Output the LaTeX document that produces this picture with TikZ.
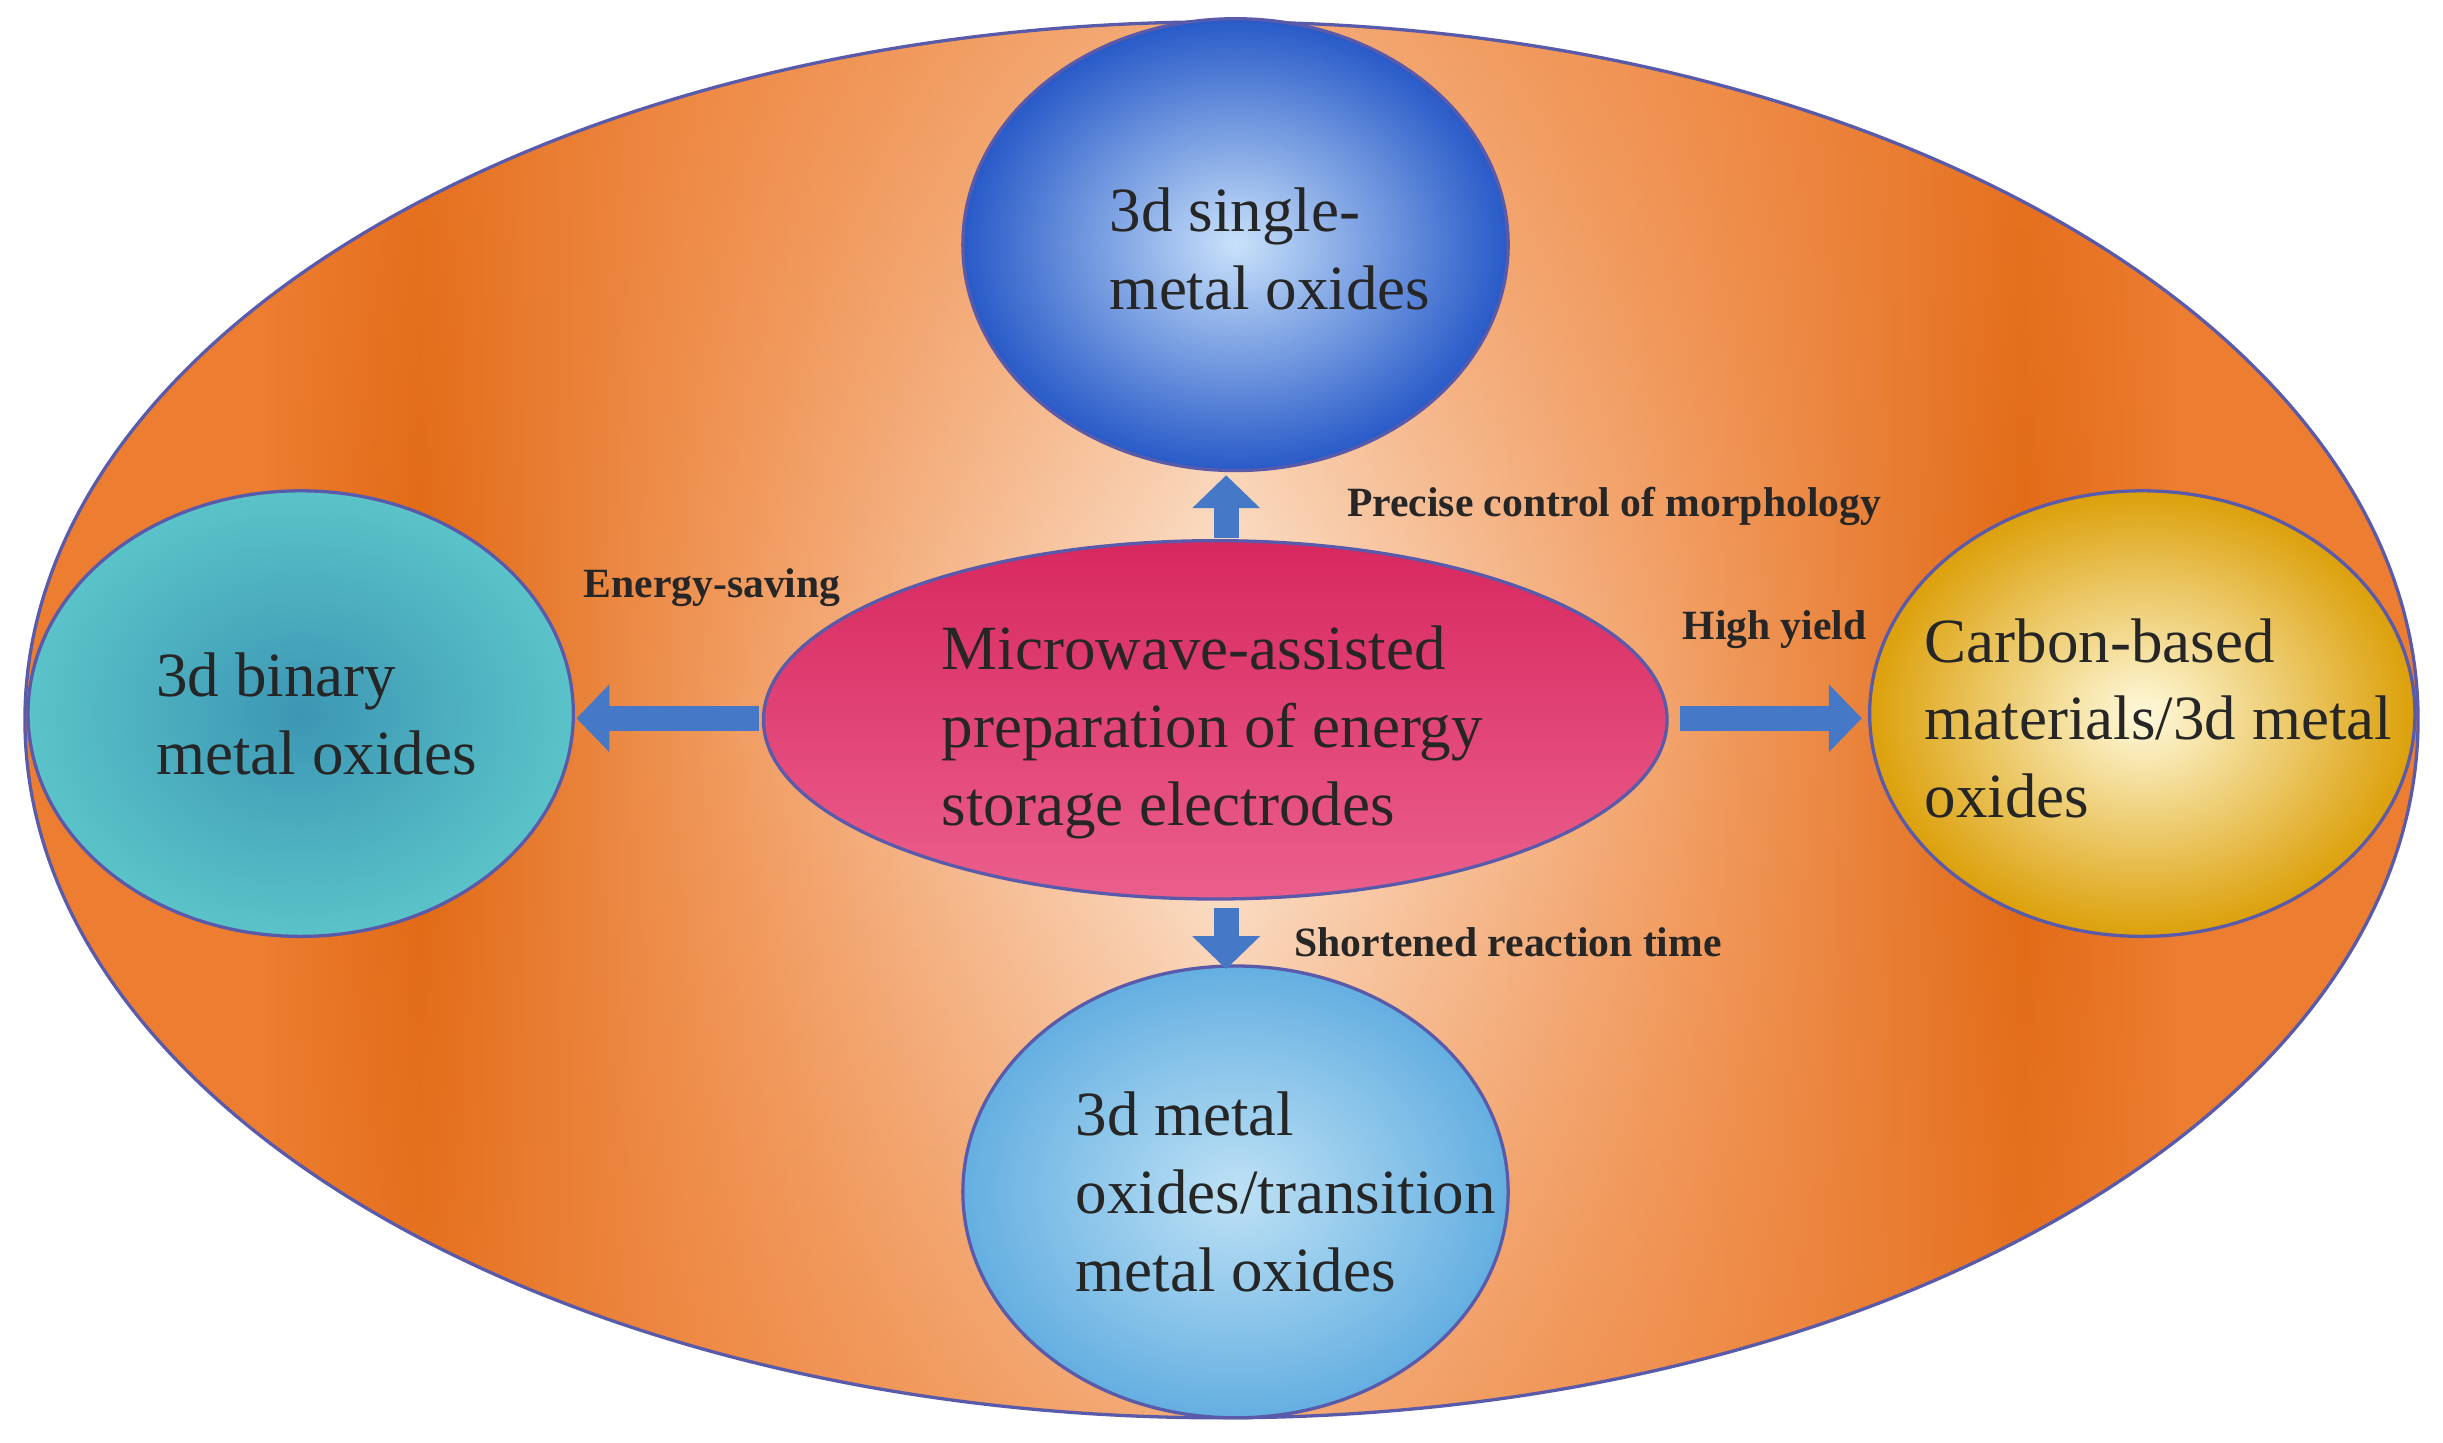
\documentclass[tikz,border=0pt]{standalone}
\usepackage{fontspec}
\setmainfont{Liberation Serif}
\usetikzlibrary{arrows.meta,fadings,shapes.geometric}
\definecolor{orA}{RGB}{237,125,49}
\definecolor{orD}{RGB}{224,104,18}
\definecolor{orL}{RGB}{253,236,220}
\pgfdeclarehorizontalshading{bgsh}{100bp}{color(0bp)=(orA);color(25bp)=(orA);color(30bp)=(orA);color(33.25bp)=(orD);color(40bp)=(orA!70!orL);color(50bp)=(orL);color(60bp)=(orA!70!orL);color(66.75bp)=(orD);color(70bp)=(orA);color(75bp)=(orA);color(100bp)=(orA)}
\tikzfading[name=vfade, top color=transparent!45, bottom color=transparent!45, middle color=transparent!100]
\tikzset{
 x=0.01cm,y=-0.01cm,
 txt/.style={align=left,anchor=west,font=\fontsize{11.5}{14.2}\selectfont,text=black!85},
 lab/.style={font=\fontsize{7.6}{9}\selectfont\bfseries,text=black!85},
 arr/.style={line width=4.5pt,-{Triangle[length=6pt,width=12pt]},color={rgb,255:red,70;green,120;blue,200}},
 edge/.style={draw={rgb,255:red,90;green,90;blue,170},line width=0.6pt}
}
\begin{document}
\begin{tikzpicture}
\useasboundingbox (0,0) rectangle (1568,926);
\shade[shading=bgsh] (784,462) ellipse [x radius=768, y radius=448];
\begin{scope}
\clip (784,462) ellipse [x radius=768, y radius=448];
\fill[orA,path fading=vfade] (16,14) rectangle (1552,910);
\end{scope}
\draw[edge] (784,462) ellipse [x radius=768, y radius=448];
% bubbles
\shade[inner color={rgb,255:red,200;green,225;blue,250},outer color={rgb,255:red,40;green,90;blue,200},edge] (793,157) ellipse [x radius=175, y radius=145];
\shade[inner color={rgb,255:red,60;green,150;blue,180},outer color={rgb,255:red,90;green,195;blue,200},edge] (193,458) ellipse [x radius=175, y radius=143];
\shade[inner color={rgb,255:red,255;green,250;blue,220},outer color={rgb,255:red,220;green,160;blue,10},edge] (1375,458) ellipse [x radius=175, y radius=143];
\shade[inner color={rgb,255:red,190;green,225;blue,245},outer color={rgb,255:red,100;green,175;blue,225},edge] (793,765) ellipse [x radius=175, y radius=145];
\shade[top color={rgb,255:red,215;green,40;blue,95},bottom color={rgb,255:red,235;green,95;blue,140},edge] (780,462) ellipse [x radius=290, y radius=115];
% texts
\node[txt] (t) at (700,160) {3d single-\\metal oxides};
\node[txt] (c) at (592,470) {Microwave-assisted\\preparation of energy\\storage electrodes};
\node[txt] (l) at (88,458) {3d binary\\metal oxides};
\node[txt] (r) at (1223,461) {Carbon-based\\materials/3d metal\\oxides};
\node[txt] (b) at (678,765) {3d metal\\oxides/transition\\metal oxides};
% labels
\node[lab] (l1) at (1036,325) {Precise control of morphology};
\node[lab] (l2) at (457,377) {Energy-saving};
\node[lab] (l3) at (1139,404) {High yield};
\node[lab] (l4) at (968,605) {Shortened reaction time};
% arrows
\coordinate (u1) at (787,345); \coordinate (u2) at (787,305);
\coordinate (a1) at (487,461); \coordinate (a2) at (370,461);
\coordinate (b1) at (1078,461); \coordinate (b2) at (1195,461);
\coordinate (d1) at (787,583); \coordinate (d2) at (787,622);
\draw[arr] (u1) -- (u2);
\draw[arr] (a1) -- (a2);
\draw[arr] (b1) -- (b2);
\draw[arr] (d1) -- (d2);
\end{tikzpicture}
\end{document}
